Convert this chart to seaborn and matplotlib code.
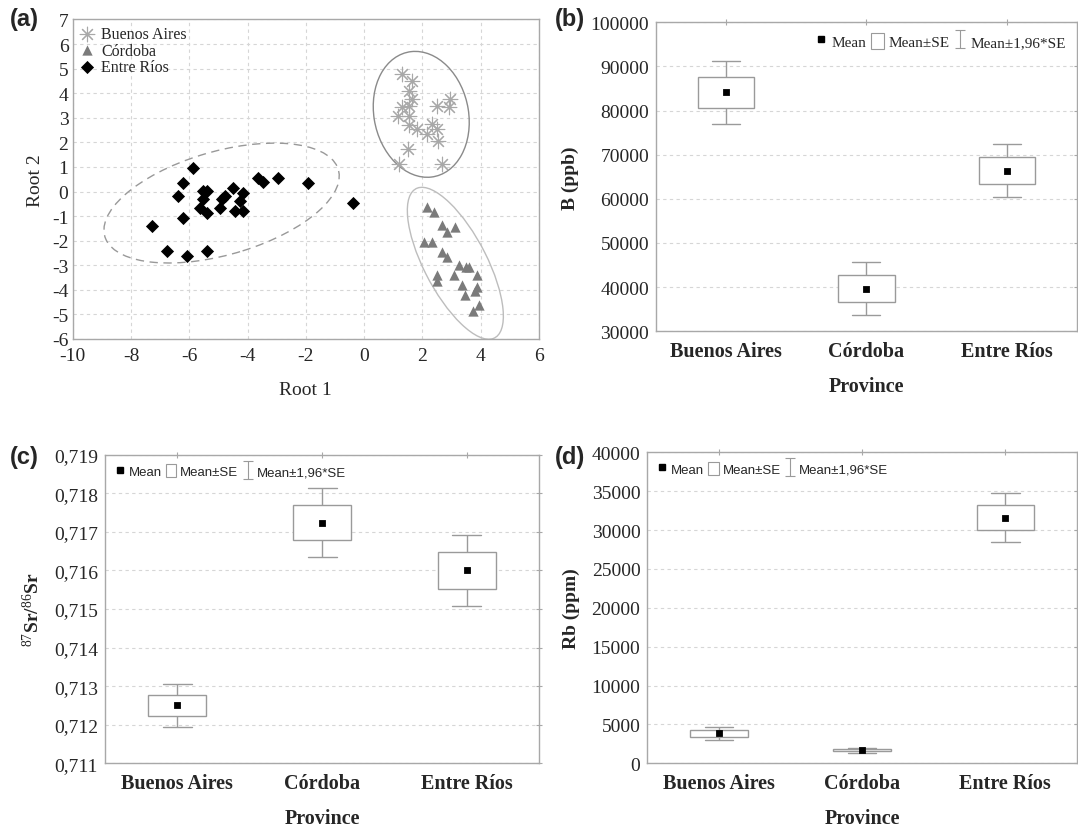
import matplotlib
matplotlib.use("Agg")
import matplotlib.pyplot as plt
import seaborn as sns
import pandas as pd
from matplotlib.patches import Ellipse, Patch
from matplotlib.lines import Line2D
from matplotlib.path import Path
from matplotlib.ticker import FuncFormatter

# ---- data -------------------------------------------------------------
provinces = ["Buenos Aires", "Córdoba", "Entre Ríos"]

# (a) canonical scores (Root 1, Root 2)
ba_root1 = [1.29, 1.63, 1.55, 1.63, 1.29, 1.55, 1.17, 1.55, 1.55, 1.81,
            2.15, 2.32, 2.49, 2.55, 2.49, 2.95, 2.92, 1.52, 1.21, 2.66]
ba_root2 = [4.78, 4.51, 4.10, 3.76, 3.43, 3.47, 3.08, 3.08, 2.71, 2.54,
            2.34, 2.75, 2.54, 2.07, 3.47, 3.76, 3.43, 1.73, 1.12, 1.12]
cb_root1 = [2.17, 2.41, 2.66, 2.86, 3.12, 2.07, 2.32, 2.66, 2.86, 3.27, 3.50,
            3.61, 3.88, 3.10, 2.49, 2.51, 3.35, 3.88, 3.81, 3.46, 3.95, 3.73]
cb_root2 = [-0.64, -0.82, -1.36, -1.66, -1.46, -2.07, -2.07, -2.47, -2.68, -2.98, -3.08,
            -3.08, -3.40, -3.40, -3.40, -3.63, -3.80, -3.90, -4.04, -4.21, -4.62, -4.85]
er_root1 = [-5.88, -6.23, -6.40, -5.52, -5.38, -5.54, -5.63, -5.38, -6.23, -7.27, -6.75,
            -6.07, -5.38, -4.89, -4.77, -4.95, -4.51, -4.17, -4.26, -4.43, -4.15, -3.63,
            -3.48, -2.97, -1.94, -0.37]
er_root2 = [0.94, 0.35, -0.18, 0.03, 0.03, -0.31, -0.67, -0.87, -1.09, -1.40, -2.42,
            -2.61, -2.42, -0.31, -0.17, -0.68, 0.14, -0.06, -0.37, -0.78, -0.78, 0.54,
            0.37, 0.54, 0.33, -0.47]

# confidence ellipses: centre x, centre y, width, height, angle
ba_ellipse = [1.96, 3.14, 3.25, 5.15, 7.7]
cb_ellipse = [3.13, -2.92, 2.20, 6.65, 23.0]
er_ellipse = [-4.89, -0.47, 8.47, 4.15, 20.3]

# (b)-(d) means and standard errors
b_mean = [84100, 39670, 66400]
b_se = [3600, 3100, 3100]
sr_mean = [0.7125, 0.71724, 0.7160]
sr_se = [0.00028, 0.00046, 0.00047]
rb_mean = [3850, 1700, 31580]
rb_se = [430, 170, 1600]

# ---- style ------------------------------------------------------------
sns.set_style("white")
plt.rcParams["font.family"] = ["Liberation Serif", "DejaVu Serif"]
plt.rcParams["axes.unicode_minus"] = False
plt.rcParams["mathtext.fontset"] = "custom"
plt.rcParams["mathtext.rm"] = "Liberation Serif"
plt.rcParams["mathtext.it"] = "Liberation Serif:italic"
plt.rcParams["mathtext.bf"] = "Liberation Serif:bold"

grey = "#9a9a9a"
frame = "#a8a8a8"
gridc = "#d6d6d6"

fig = plt.figure(figsize=(10.78, 8.29), dpi=100)
ax_a = fig.add_axes([0.0674, 0.5899, 0.4326, 0.3854])
ax_b = fig.add_axes([0.6085, 0.5992, 0.3905, 0.3727])
ax_c = fig.add_axes([0.0974, 0.0780, 0.4029, 0.3723])
ax_d = fig.add_axes([0.6005, 0.0780, 0.3985, 0.3752])


def frame_axes(ax):
    for sp in ax.spines.values():
        sp.set_visible(True)
        sp.set_color(frame)
        sp.set_linewidth(1.0)
    ax.tick_params(direction="inout", length=4, color=frame, top=True, right=True,
                   labeltop=False, labelright=False)


# ---- (a) scatter -------------------------------------------------------
sns.scatterplot(x=ba_root1, y=ba_root2, marker=(8, 2, 0), s=110, color="#a8a8a8",
                linewidth=0.8, label="Buenos Aires", ax=ax_a, zorder=3)
sns.scatterplot(x=cb_root1, y=cb_root2, marker="^", s=55, color="#7b7b7b",
                linewidth=0, label="Córdoba", ax=ax_a, zorder=3)
sns.scatterplot(x=er_root1, y=er_root2, marker="D", s=45, color="black",
                linewidth=0, label="Entre Ríos", ax=ax_a, zorder=3)

for (cx, cy, w, h, ang), col, ls in [(ba_ellipse, "#8a8a8a", "-"),
                                      (cb_ellipse, "#bdbdbd", "-"),
                                      (er_ellipse, "#999999", (0, (6, 4)))]:
    ax_a.add_patch(Ellipse((cx, cy), w, h, angle=ang, fill=False, edgecolor=col,
                           linewidth=1.0, linestyle=ls, zorder=2))

ax_a.set_xlim(-10, 6)
ax_a.set_ylim(-6, 7)
ax_a.set_xticks(range(-10, 7, 2))
ax_a.set_yticks(range(-6, 8))
ax_a.grid(True, linestyle=(0, (3, 3)), color=gridc, linewidth=0.8)
ax_a.set_axisbelow(True)
frame_axes(ax_a)
ax_a.tick_params(labelsize=14, length=0)
ax_a.tick_params(axis="x", pad=6)
ax_a.tick_params(axis="y", pad=3)
ax_a.set_xlabel("Root 1", fontsize=14, labelpad=12)
ax_a.set_ylabel("Root 2", fontsize=14, labelpad=6)
ax_a.legend(loc="upper left", frameon=False, fontsize=11.5, handletextpad=0.4,
            labelspacing=0.05, borderaxespad=0.2, handlelength=1.0, borderpad=0.2)

# ---- (b)-(d) mean / SE boxes -------------------------------------------
ibeam = Path([(-0.5, 1), (0.5, 1), (0, 1), (0, -1), (-0.5, -1), (0.5, -1)],
             [Path.MOVETO, Path.LINETO, Path.MOVETO, Path.LINETO, Path.MOVETO, Path.LINETO])


def mean_se_panel(ax, means, ses, ylabel, legend_font, legend_loc):
    rows = []
    for p, m, s in zip(provinces, means, ses):
        for k in (-1.96, -1.0, 0.0, 1.0, 1.96):
            rows.append({"Province": p, "value": m + k * s})
    df = pd.DataFrame(rows)
    sns.boxplot(data=df, x="Province", y="value", order=provinces, whis=(0, 100),
                width=0.4, color="white", linecolor=grey, linewidth=1.0,
                showfliers=False, medianprops={"visible": False}, ax=ax)
    sns.pointplot(x=provinces, y=means, order=provinces, linestyle="none", marker="s",
                  color="black", markersize=3.5, errorbar=None, ax=ax, zorder=5)
    ax.set_xlim(-0.5, 2.5)
    ax.yaxis.grid(True, linestyle=(0, (3, 3)), color=gridc, linewidth=0.8)
    ax.set_axisbelow(True)
    frame_axes(ax)
    ax.tick_params(axis="y", labelsize=14, pad=3)
    ax.tick_params(axis="x", labelsize=14.5, pad=5)
    for lbl in ax.get_xticklabels():
        lbl.set_fontweight("bold")
    ax.set_xlabel("Province", fontsize=14.5, fontweight="bold", labelpad=11)
    ax.set_ylabel(ylabel, fontsize=14, fontweight="bold", labelpad=8)

    handles = [Line2D([], [], ls="none", marker="s", color="black", markersize=4),
               Patch(facecolor="white", edgecolor=grey, linewidth=0.8),
               Line2D([], [], ls="none", marker=ibeam, markersize=13,
                      markeredgecolor=grey, markerfacecolor="none", markeredgewidth=0.8)]
    ax.legend(handles, ["Mean", "Mean±SE", "Mean±1,96*SE"], loc=legend_loc, ncol=3,
              frameon=False, prop=legend_font, handlelength=0.8, handleheight=1.2,
              handletextpad=0.3, columnspacing=0.3, borderaxespad=0.3)


mean_se_panel(ax_b, b_mean, b_se, "B (ppb)",
              {"family": "Liberation Serif", "size": 11}, "upper right")
ax_b.set_ylim(30000, 100000)
ax_b.set_yticks(range(30000, 100001, 10000))

mean_se_panel(ax_c, sr_mean, sr_se, r"$^{87}$Sr/$^{86}$Sr",
              {"family": "Liberation Sans", "size": 9.5}, "upper left")
ax_c.set_ylim(0.711, 0.719)
ax_c.set_yticks([0.711 + 0.001 * i for i in range(9)])
ax_c.yaxis.set_major_formatter(FuncFormatter(lambda v, p: f"{v:.3f}".replace(".", ",")))

mean_se_panel(ax_d, rb_mean, rb_se, "Rb (ppm)",
              {"family": "Liberation Sans", "size": 9.5}, "upper left")
ax_d.set_ylim(0, 40000)
ax_d.set_yticks(range(0, 40001, 5000))

# panel letters
for x, y, t in [(0.009, 0.977, "(a)"), (0.515, 0.977, "(b)"),
                (0.009, 0.448, "(c)"), (0.515, 0.448, "(d)")]:
    fig.text(x, y, t, fontsize=17, fontweight="bold", family="Liberation Sans",
             va="center", ha="left")

plt.savefig("out.png", dpi=100)
